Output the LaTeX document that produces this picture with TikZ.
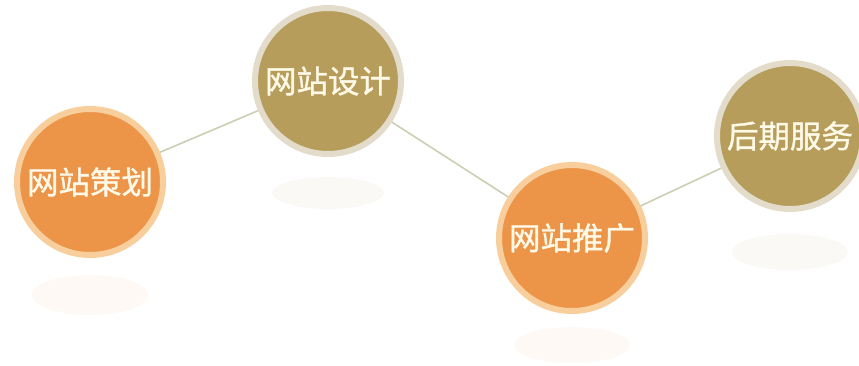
\documentclass[tikz,border=0pt]{standalone}
\usepackage{fontspec}
\newfontfamily\cjk[FakeBold=1.2]{Noto Sans CJK SC}
\definecolor{orangefill}{HTML}{EC9448}
\definecolor{orangering}{HTML}{F8CF9C}
\definecolor{goldfill}{HTML}{B79D5C}
\definecolor{goldring}{HTML}{E3DCCB}
\definecolor{linkcol}{HTML}{C9CFB2}
\definecolor{textcol}{HTML}{FFF9E8}
\tikzset{
  bubble/.style={circle, minimum size=146pt, inner sep=0pt, line width=6pt,
    font=\cjk\fontsize{31.5}{32}\selectfont, text=textcol},
  orangeb/.style={bubble, fill=orangefill, draw=orangering},
  goldb/.style={bubble, fill=goldfill, draw=goldring},
  link/.style={draw=linkcol, line width=1.6pt},
  glow/.style={fill=#1, opacity=0.06}
}
\begin{document}
\begin{tikzpicture}[x=1pt,y=1pt]
\useasboundingbox (0,0) rectangle (859,365);
% faint reflections
\fill[glow=orangefill] (90,70) ellipse (58 and 20);
\fill[glow=goldfill] (328,172) ellipse (56 and 16);
\fill[glow=orangefill] (572,20) ellipse (58 and 18);
\fill[glow=goldfill] (790,113) ellipse (58 and 18);
% bubbles
\node[orangeb] (plan) at (90,183) {网站策划};
\node[goldb] (design) at (328,284) {网站设计};
\node[orangeb] (promo) at (572,127) {网站推广};
\node[goldb] (service) at (790,229) {后期服务};
% links
\draw[link] (plan) -- (design);
\draw[link] (design) -- (promo);
\draw[link] (promo) -- (service);
\end{tikzpicture}
\end{document}
